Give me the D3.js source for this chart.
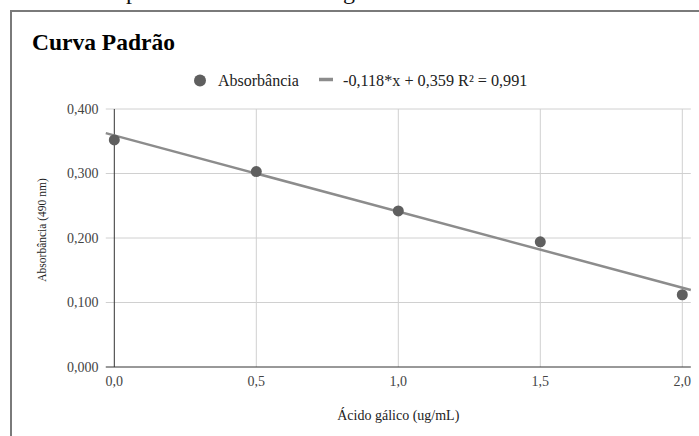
<!DOCTYPE html>
<html>
<head>
<meta charset="utf-8">
<script src="https://cdn.jsdelivr.net/npm/d3@7"></script>
<style>
html,body{margin:0;padding:0;background:#fff;}
svg{display:block;}
text{font-family:"Liberation Serif","Times New Roman",serif;}
</style>
</head>
<body>
<svg id="chart" width="699" height="436"></svg>
<script>
// ---- data ----
const concentrations = [0.0, 0.5, 1.0, 1.5, 2.0];
const absorbance = [0.352, 0.303, 0.242, 0.194, 0.112];
const trendSlope = -0.118;
const trendIntercept = 0.359;
const trendR2 = 0.991;
const xTicks = [0.0, 0.5, 1.0, 1.5, 2.0];
const yTicks = [0.0, 0.1, 0.2, 0.3, 0.4];
const titleText = "Curva Padrão";
const seriesName = "Absorbância";
const trendLabel = "-0,118*x + 0,359 R² = 0,991";
const xTitle = "Ácido gálico (ug/mL)";
const yTitle = "Absorbância (490 nm)";
const xDomain = [-0.03, 2.03];
const yDomain = [0, 0.4];

// ---- layout ----
const svg = d3.select("#chart");
const pxPerUnit = 284, x0px = 114.3;
const x = d3.scaleLinear().domain(xDomain)
  .range([x0px + xDomain[0]*pxPerUnit, x0px + xDomain[1]*pxPerUnit]);
const y = d3.scaleLinear().domain(yDomain).range([367, 109]);
const fmt = (d, n) => d.toFixed(n).replace(".", ",");

function stext(g, px, py, str, opts) {
  const t = g.append("text").attr("x", px).attr("y", py)
    .attr("text-anchor", opts.anchor || "start")
    .attr("font-size", opts.size)
    .attr("fill", opts.fill || "#222")
    .text(str);
  if (opts.weight) t.attr("font-weight", opts.weight);
  return t;
}

// cropped document text above chart (only descenders visible in the reference)
svg.append("text").attr("x", 126).attr("y", -1).attr("font-size", 24).attr("fill", "#111").text("p");
svg.append("text").attr("x", 343).attr("y", -1).attr("font-size", 24).attr("fill", "#111").text("g");

// frame
svg.append("path").attr("d", "M11,436 L11,11 L699,11")
  .attr("fill", "none").attr("stroke", "#7a7a7a").attr("stroke-width", 2);

// title
stext(svg, 32, 50, titleText, {size: 23.5, weight: "bold", fill: "#000"});

// legend
const lg = svg.append("g");
lg.append("circle").attr("cx", 200).attr("cy", 80.5).attr("r", 6).attr("fill", "#5f5f5f");
stext(lg, 218, 85.5, seriesName, {size: 16, fill: "#222"});
lg.append("line").attr("x1", 319).attr("x2", 333).attr("y1", 79.5).attr("y2", 79.5)
  .attr("stroke", "#8c8c8c").attr("stroke-width", 3.5);
stext(lg, 343, 85.5, trendLabel, {size: 16.2, fill: "#222"});

// gridlines
const [xl, xr] = x.range();
svg.append("g").selectAll("line").data(yTicks.filter(d => d > 0)).join("line")
  .attr("x1", xl).attr("x2", xr).attr("y1", d => y(d)).attr("y2", d => y(d))
  .attr("stroke", "#d0d0d0").attr("stroke-width", 1);
svg.append("g").selectAll("line").data(xTicks.filter(d => d > 0)).join("line")
  .attr("x1", d => x(d)).attr("x2", d => x(d)).attr("y1", y(0)).attr("y2", y(yDomain[1]))
  .attr("stroke", "#d0d0d0").attr("stroke-width", 1);

// baselines (axes)
svg.append("line").attr("x1", x(0)).attr("x2", x(0)).attr("y1", y(0)).attr("y2", y(yDomain[1]))
  .attr("stroke", "#333").attr("stroke-width", 1);
svg.append("line").attr("x1", xl).attr("x2", xr).attr("y1", y(0)).attr("y2", y(0))
  .attr("stroke", "#333").attr("stroke-width", 1);

// tick labels
yTicks.forEach(d => stext(svg, 98.5, y(d) + 4.7, fmt(d, 3), {size: 14, anchor: "end", fill: "#444"}));
xTicks.forEach(d => stext(svg, x(d), 385.5, fmt(d, 1), {size: 14, anchor: "middle", fill: "#444"}));

// axis titles
stext(svg, (xl + xr) / 2, 420, xTitle, {size: 14, anchor: "middle", fill: "#222"});
svg.append("text").attr("transform", "translate(45.5,230) rotate(-90)")
  .attr("text-anchor", "middle").attr("font-size", 11.5).attr("fill", "#222").text(yTitle);

// trendline
const trendPts = xDomain.map(v => [v, trendSlope * v + trendIntercept]);
svg.append("path").datum(trendPts)
  .attr("d", d3.line().x(d => x(d[0])).y(d => y(d[1])))
  .attr("fill", "none").attr("stroke", "#8c8c8c").attr("stroke-width", 2.5);

// points
svg.append("g").selectAll("circle").data(concentrations.map((c, i) => [c, absorbance[i]])).join("circle")
  .attr("cx", d => x(d[0])).attr("cy", d => y(d[1])).attr("r", 5.5).attr("fill", "#5f5f5f");
</script>
</body>
</html>
